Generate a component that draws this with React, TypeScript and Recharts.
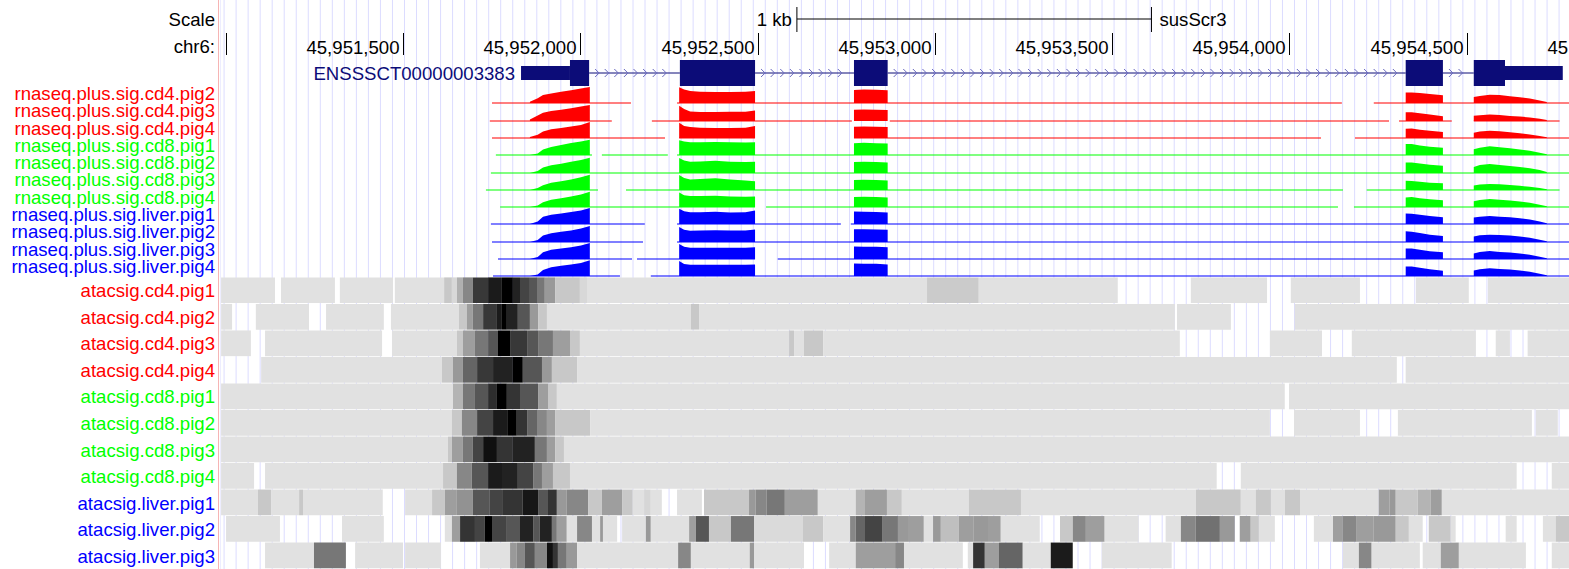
import React from 'react';
import {
  ComposedChart,
  AreaChart,
  Area,
  XAxis,
  YAxis,
  CartesianGrid,
  ReferenceArea,
  ReferenceLine,
} from 'recharts';

// genome window (chr6), offsets in the tables below are bp from ORIGIN
const ORIGIN = 45951000;
const VIEW_START = 45950984;
const VIEW_END = 45955127;

const RULER_TICKS = [45951000, 45951500, 45952000, 45952500, 45953000, 45953500, 45954000, 45954500, 45955000];
const SCALE_BAR = [1611, 2611];

const GENE_NAME = 'ENSSSCT00000003383';
const GENE_UTR = [[833, 971], [3608, 3771]];
const GENE_CDS = [[971, 1025], [1281, 1493], [1772, 1867], [3328, 3433], [3520, 3608]];

// rna-seq coverage (fraction of track height), sampled per exon
const RNA_TRACKS = [
  'rnaseq.plus.sig.cd4.pig2', 'rnaseq.plus.sig.cd4.pig3', 'rnaseq.plus.sig.cd4.pig4',
  'rnaseq.plus.sig.cd8.pig1', 'rnaseq.plus.sig.cd8.pig2', 'rnaseq.plus.sig.cd8.pig3', 'rnaseq.plus.sig.cd8.pig4',
  'rnaseq.plus.sig.liver.pig1', 'rnaseq.plus.sig.liver.pig2', 'rnaseq.plus.sig.liver.pig3', 'rnaseq.plus.sig.liver.pig4',
];
const EXON1_POS = [858, 880, 895, 918, 946, 974, 1002, 1027];
const EXON2_POS = [1279, 1293, 1310, 1338, 1381, 1423, 1466, 1493];
const EXON3_POS = [1772, 1800, 1835, 1867];
const EXON4_POS = [3328, 3345, 3368, 3396, 3433];
const EXON5_POS = [3520, 3537, 3565, 3593, 3622, 3650, 3678, 3706, 3726];

const RNA_EXON1 = [
  [0.08, 0.3, 0.5, 0.6, 0.7, 0.8, 0.9, 1.0],
  [0.1, 0.35, 0.52, 0.62, 0.7, 0.8, 0.9, 1.0],
  [0.06, 0.2, 0.4, 0.55, 0.62, 0.72, 0.82, 1.0],
  [0, 0.1, 0.35, 0.5, 0.62, 0.75, 0.85, 0.95],
  [0, 0.12, 0.35, 0.48, 0.58, 0.7, 0.82, 0.95],
  [0, 0.12, 0.3, 0.45, 0.55, 0.65, 0.8, 0.95],
  [0, 0.1, 0.3, 0.45, 0.55, 0.65, 0.78, 0.95],
  [0, 0.15, 0.45, 0.58, 0.66, 0.75, 0.85, 1.0],
  [0, 0.12, 0.4, 0.55, 0.64, 0.72, 0.85, 1.0],
  [0, 0.12, 0.42, 0.58, 0.66, 0.74, 0.85, 1.0],
  [0, 0.1, 0.38, 0.55, 0.64, 0.72, 0.82, 0.98],
];
const RNA_EXON2 = [
  [0.98, 0.85, 0.75, 0.7, 0.68, 0.68, 0.7, 0.75],
  [0.96, 0.75, 0.6, 0.56, 0.56, 0.58, 0.58, 0.65],
  [0.96, 0.75, 0.68, 0.64, 0.62, 0.63, 0.64, 0.75],
  [0.92, 0.85, 0.8, 0.8, 0.82, 0.8, 0.78, 0.8],
  [0.94, 0.78, 0.7, 0.72, 0.76, 0.7, 0.68, 0.7],
  [0.94, 0.75, 0.66, 0.68, 0.74, 0.66, 0.6, 0.55],
  [0.9, 0.74, 0.68, 0.68, 0.7, 0.66, 0.64, 0.66],
  [0.96, 0.8, 0.74, 0.74, 0.76, 0.72, 0.74, 0.85],
  [0.94, 0.76, 0.7, 0.72, 0.73, 0.72, 0.72, 0.78],
  [0.94, 0.76, 0.7, 0.7, 0.7, 0.7, 0.7, 0.74],
  [0.94, 0.75, 0.7, 0.7, 0.7, 0.7, 0.7, 0.72],
];
const RNA_EXON3 = [
  [0.82, 0.84, 0.83, 0.8],
  [0.7, 0.72, 0.7, 0.68],
  [0.7, 0.72, 0.7, 0.68],
  [0.74, 0.76, 0.74, 0.72],
  [0.68, 0.7, 0.68, 0.66],
  [0.62, 0.64, 0.63, 0.6],
  [0.62, 0.64, 0.62, 0.6],
  [0.78, 0.76, 0.75, 0.72],
  [0.8, 0.79, 0.78, 0.76],
  [0.78, 0.77, 0.76, 0.74],
  [0.78, 0.77, 0.76, 0.72],
];
const RNA_EXON4 = [
  [0.66, 0.66, 0.62, 0.56, 0.48],
  [0.54, 0.55, 0.48, 0.4, 0.3],
  [0.58, 0.6, 0.52, 0.45, 0.38],
  [0.68, 0.68, 0.6, 0.52, 0.46],
  [0.66, 0.66, 0.6, 0.52, 0.46],
  [0.58, 0.56, 0.52, 0.46, 0.42],
  [0.6, 0.62, 0.55, 0.48, 0.42],
  [0.65, 0.64, 0.58, 0.5, 0.42],
  [0.67, 0.64, 0.56, 0.45, 0.38],
  [0.66, 0.66, 0.58, 0.48, 0.42],
  [0.6, 0.6, 0.52, 0.42, 0.33],
];
const RNA_EXON5 = [
  [0.38, 0.44, 0.52, 0.5, 0.42, 0.36, 0.28, 0.16, 0.06],
  [0.33, 0.36, 0.4, 0.37, 0.32, 0.28, 0.22, 0.14, 0.06],
  [0.33, 0.4, 0.46, 0.42, 0.36, 0.3, 0.22, 0.12, 0.04],
  [0.36, 0.46, 0.54, 0.48, 0.42, 0.34, 0.26, 0.14, 0.04],
  [0.38, 0.5, 0.56, 0.5, 0.44, 0.38, 0.3, 0.18, 0.06],
  [0.28, 0.34, 0.38, 0.36, 0.32, 0.26, 0.2, 0.12, 0.04],
  [0.36, 0.44, 0.5, 0.46, 0.4, 0.34, 0.26, 0.14, 0.04],
  [0.4, 0.46, 0.5, 0.46, 0.42, 0.36, 0.28, 0.16, 0.05],
  [0.34, 0.42, 0.46, 0.44, 0.4, 0.34, 0.26, 0.14, 0.04],
  [0.34, 0.44, 0.5, 0.44, 0.4, 0.34, 0.26, 0.14, 0.04],
  [0.34, 0.42, 0.48, 0.44, 0.4, 0.34, 0.26, 0.14, 0.04],
];
// stretches with low (non-zero) coverage
const RNA_LOW = [
  [[751, 1143], [1273, 3148], [3238, 3800]],
  [[745, 1089], [1202, 1766], [1873, 3281], [3309, 3458], [3520, 3762]],
  [[751, 1239], [1279, 1493], [1772, 3089], [3185, 3800]],
  [[762, 1033], [1061, 1247], [1273, 3800]],
  [[748, 3800]],
  [[734, 1050], [1129, 3151], [3218, 3762]],
  [[774, 1493], [1524, 3137], [3182, 3800]],
  [[748, 1182], [1273, 1735], [1763, 3800]],
  [[751, 1177], [1273, 3800]],
  [[768, 1146], [1160, 1493], [1557, 3800]],
  [[754, 1112], [1199, 3800]],
];

// atac-seq dense tracks: [start, end, signal 0-100]
const ATAC_TRACKS = [
  'atacsig.cd4.pig1', 'atacsig.cd4.pig2', 'atacsig.cd4.pig3', 'atacsig.cd4.pig4',
  'atacsig.cd8.pig1', 'atacsig.cd8.pig2', 'atacsig.cd8.pig3', 'atacsig.cd8.pig4',
  'atacsig.liver.pig1', 'atacsig.liver.pig2', 'atacsig.liver.pig3',
];
const ATAC_CD4_PIG1 = [
  [-13, 139, 0], [156, 308, 0], [322, 472, 0], [477, 616, 0], [616, 638, 11], [638, 652, 4], [652, 669, 22],
  [669, 697, 40], [697, 740, 75], [740, 779, 88], [779, 810, 100], [810, 830, 85], [830, 858, 70], [858, 878, 62],
  [878, 900, 47], [900, 929, 32], [929, 999, 11], [999, 1019, 4], [1019, 1978, 0], [1978, 2124, 10], [2124, 2516, 0],
  [2722, 2937, 0], [3004, 3199, 0], [3357, 3506, 0], [3560, 3800, 0],
];
const ATAC_CD4_PIG2 = [
  [-13, 18, 0], [85, 235, 0], [283, 446, 0], [466, 658, 0], [658, 680, 11], [680, 697, 30], [697, 726, 47],
  [726, 765, 75], [765, 779, 88], [779, 793, 100], [793, 824, 85], [824, 858, 62], [858, 881, 32], [881, 906, 11],
  [906, 1312, 0], [1312, 1335, 11], [1335, 2677, 0], [2683, 2835, 0], [3015, 3800, 0],
];
const ATAC_CD4_PIG3 = [
  [-13, 71, 0], [111, 441, 0], [469, 652, 0], [652, 669, 11], [669, 703, 30], [703, 740, 47], [740, 768, 62],
  [768, 802, 100], [802, 850, 75], [850, 881, 62], [881, 923, 47], [923, 971, 30], [971, 999, 11], [999, 1589, 0],
  [1589, 1603, 11], [1603, 1631, 0], [1631, 1685, 11], [1685, 2691, 0], [2945, 3092, 0], [3176, 3526, 0],
  [3582, 3622, 0], [3672, 3800, 0],
];
const ATAC_CD4_PIG4 = [
  [100, 610, 0], [610, 641, 11], [641, 669, 32], [669, 709, 55], [709, 754, 75], [754, 810, 85], [810, 838, 100],
  [838, 892, 62], [892, 920, 32], [920, 991, 11], [991, 3303, 0], [3328, 3800, 0],
];
const ATAC_CD8_PIG1 = [
  [-13, 641, 0], [641, 669, 20], [669, 703, 47], [703, 740, 62], [740, 765, 80], [765, 793, 100], [793, 830, 77],
  [830, 881, 62], [881, 909, 30], [909, 934, 11], [934, 2987, 0], [2999, 3800, 0],
];
const ATAC_CD8_PIG2 = [
  [-13, 638, 0], [638, 666, 11], [666, 709, 40], [709, 754, 70], [754, 796, 88], [796, 821, 100], [821, 850, 77],
  [850, 878, 55], [878, 906, 40], [906, 929, 30], [929, 1028, 11], [1028, 2945, 0], [3013, 3199, 0],
  [3306, 3684, 0], [3695, 3757, 0],
];
const ATAC_CD8_PIG3 = [
  [-13, 627, 0], [627, 638, 11], [638, 669, 30], [669, 697, 47], [697, 726, 70], [726, 765, 93], [765, 810, 77],
  [810, 872, 85], [872, 906, 47], [906, 929, 30], [929, 954, 11], [954, 3800, 0],
];
const ATAC_CD8_PIG4 = [
  [-13, 80, 0], [111, 613, 0], [613, 652, 11], [652, 694, 40], [694, 740, 62], [740, 782, 88], [782, 824, 85],
  [824, 867, 70], [867, 892, 47], [892, 923, 30], [923, 971, 11], [971, 2795, 0], [2863, 3641, 0], [3740, 3800, 0],
];
const ATAC_LIVER_PIG1 = [
  [-13, 91, 0], [91, 128, 11], [128, 207, 0], [207, 218, 11], [218, 443, 0], [506, 582, 0], [582, 618, 11],
  [618, 652, 30], [652, 697, 35], [697, 745, 62], [745, 782, 70], [782, 838, 77], [838, 881, 90], [881, 909, 62],
  [909, 934, 77], [934, 962, 32], [962, 1022, 40], [1022, 1061, 11], [1061, 1118, 30], [1118, 1148, 11],
  [1148, 1180, 0], [1180, 1199, 5], [1199, 1230, 0], [1273, 1343, 0], [1349, 1476, 11], [1476, 1495, 32],
  [1495, 1526, 40], [1526, 1577, 47], [1577, 1670, 30], [1670, 1777, 0], [1777, 1803, 20], [1803, 1865, 30],
  [1865, 1907, 11], [1907, 2096, 0], [2096, 2243, 11], [2243, 2736, 0], [2736, 2863, 11], [2863, 2905, 0],
  [2905, 2948, 11], [2948, 2987, 0], [2987, 3030, 11], [3030, 3252, 0], [3252, 3283, 30], [3283, 3300, 32],
  [3300, 3362, 11], [3362, 3399, 20], [3399, 3430, 30], [3430, 3800, 0],
];
const ATAC_LIVER_PIG2 = [
  [1, 153, 0], [328, 446, 0], [618, 638, 0], [638, 661, 30], [661, 703, 77], [703, 731, 70], [731, 751, 100],
  [751, 793, 70], [793, 830, 62], [830, 867, 85], [867, 886, 62], [886, 920, 85], [920, 934, 47], [934, 962, 30],
  [962, 991, 0], [991, 1033, 40], [1033, 1056, 0], [1056, 1064, 32], [1064, 1104, 0], [1118, 1185, 0],
  [1185, 1199, 32], [1199, 1307, 0], [1307, 1326, 30], [1326, 1363, 62], [1363, 1425, 11], [1425, 1490, 47],
  [1490, 1628, 3], [1628, 1685, 11], [1685, 1761, 0], [1761, 1777, 40], [1777, 1803, 55], [1803, 1853, 70],
  [1853, 1896, 47], [1896, 1927, 32], [1927, 1969, 30], [1969, 1995, 0], [1995, 2017, 32], [2017, 2068, 15],
  [2068, 2110, 30], [2110, 2150, 32], [2150, 2186, 30], [2186, 2296, 0], [2353, 2389, 11], [2389, 2426, 40],
  [2426, 2479, 30], [2479, 2575, 0], [2651, 2694, 0], [2694, 2736, 40], [2736, 2804, 50], [2804, 2846, 32],
  [2860, 2891, 30], [2891, 2914, 11], [2914, 2959, 0], [3069, 3123, 0], [3123, 3151, 30], [3151, 3190, 40],
  [3190, 3238, 30], [3238, 3300, 32], [3300, 3337, 11], [3337, 3376, 0], [3393, 3455, 11], [3455, 3469, 0],
  [3610, 3641, 0], [3715, 3751, 0], [3751, 3800, 11],
];
const ATAC_LIVER_PIG3 = [
  [111, 249, 0], [249, 339, 47], [365, 500, 0], [506, 607, 0], [717, 802, 0], [802, 821, 32], [821, 844, 40],
  [844, 872, 62], [872, 906, 40], [906, 923, 93], [923, 937, 77], [937, 962, 47], [962, 991, 32], [991, 1276, 0],
  [1276, 1312, 40], [1312, 1478, 0], [1478, 1490, 32], [1490, 1631, 0], [1702, 1777, 0], [1777, 1888, 30],
  [1888, 1913, 40], [1913, 2079, 0], [2093, 2108, 0], [2108, 2141, 77], [2141, 2181, 30], [2181, 2248, 55],
  [2248, 2327, 0], [2327, 2389, 88], [2471, 2668, 0], [3151, 3196, 0], [3196, 3232, 40], [3232, 3368, 0],
  [3376, 3427, 0], [3427, 3478, 30], [3478, 3667, 0], [3740, 3800, 0],
];
const ATAC_ROWS = [
  ATAC_CD4_PIG1, ATAC_CD4_PIG2, ATAC_CD4_PIG3, ATAC_CD4_PIG4,
  ATAC_CD8_PIG1, ATAC_CD8_PIG2, ATAC_CD8_PIG3, ATAC_CD8_PIG4,
  ATAC_LIVER_PIG1, ATAC_LIVER_PIG2, ATAC_LIVER_PIG3,
];

// layout
const FONT = '"Liberation Sans", Arial, Helvetica, sans-serif';
const FS = 18.6;
const NAVY = '#0c0c78';
const PLOT_LEFT = 220;
const PLOT_W = 1469;
const RNA_BASE = 103.3;
const RNA_STEP = 17.3;
const ATAC_TOP = 277.3;
const ATAC_H = 291.7;
const ATAC_ROW = ATAC_H / 11;
const M0 = { top: 0, right: 0, bottom: 0, left: 0 };
const VIEW_DATA = [{ x: VIEW_START }, { x: VIEW_END }];

const groupColor = (name: string) =>
  name.includes('cd4') ? '#ff0000' : name.includes('cd8') ? '#00ff00' : '#0000ff';
const shade = (s: number) => {
  const g = Math.round(225 - 2.25 * s);
  return `rgb(${g},${g},${g})`;
};

// light-blue guidelines every ~12px
const GUIDES = Array.from({ length: 122 }, (_, k) => VIEW_START + 11.5 + k * 33.92);

const GENE_BLOCKS = [...GENE_UTR, ...GENE_CDS].sort((a, b) => a[0] - b[0]);
const GENE_INTRONS = GENE_BLOCKS.slice(1)
  .map((b, k) => [GENE_BLOCKS[k][1], b[0]])
  .filter(([a, b]) => b > a);

function trackPoints(i: number) {
  const blocks: [number[], number[]][] = [
    [EXON1_POS, RNA_EXON1[i]],
    [EXON2_POS, RNA_EXON2[i]],
    [EXON3_POS, RNA_EXON3[i]],
    [EXON4_POS, RNA_EXON4[i]],
    [EXON5_POS, RNA_EXON5[i]],
  ];
  const pts: { x: number; v: number | null }[] = [];
  blocks.forEach(([pos, vals], k) => {
    if (k > 0) pts.push({ x: ORIGIN + pos[0] - 1, v: null });
    pos.forEach((p, j) => pts.push({ x: ORIGIN + p, v: vals[j] }));
  });
  return pts;
}

function RulerTick(props: any) {
  const { x, payload } = props;
  const px = Math.round(x) + 0.5;
  // like the browser, skip a label that would not fit left of its tick
  const showLabel = px > 100;
  return (
    <g>
      <line x1={px} x2={px} y1={33} y2={55} stroke="#000" />
      {showLabel && (
        <text x={px - 4} y={53.5} textAnchor="end" fontSize={FS} fontFamily={FONT} fill="#000">
          {Number(payload.value).toLocaleString('en-US')}
        </text>
      )}
    </g>
  );
}

function IntronShape(props: any) {
  const { x1, x2, y1 } = props;
  const marks: number[] = [];
  for (let cx = x1 + 8; cx < x2 - 8; cx += 9.6) marks.push(cx);
  return (
    <g>
      <line x1={x1} x2={x2} y1={y1} y2={y1} stroke={NAVY} />
      {marks.map((cx) => (
        <polyline key={cx} points={`${cx - 2},${y1 - 4} ${cx + 2},${y1} ${cx - 2},${y1 + 4}`} fill="none" stroke="#6a6ac0" />
      ))}
    </g>
  );
}

const xAxis = (extra: any = {}) => (
  <XAxis type="number" dataKey="x" domain={[VIEW_START, VIEW_END]} allowDataOverflow hide {...extra} />
);

function RnaTrack({ i }: { i: number }) {
  const color = groupColor(RNA_TRACKS[i]);
  return (
    <AreaChart width={PLOT_W} height={17} data={trackPoints(i)} margin={{ top: 0, right: 0, bottom: 1, left: 0 }}>
      {xAxis()}
      <YAxis type="number" domain={[0, 1]} allowDataOverflow hide />
      {RNA_LOW[i].map(([a, b], k) => (
        <ReferenceLine key={k} segment={[{ x: ORIGIN + a, y: 0 }, { x: ORIGIN + b, y: 0 }]} stroke={color} strokeWidth={1.2} />
      ))}
      <Area dataKey="v" type="linear" stroke="none" fill={color} fillOpacity={1} isAnimationActive={false} dot={false} activeDot={false} />
    </AreaChart>
  );
}

const labelStyle = (top: number, color: string): React.CSSProperties => ({
  position: 'absolute',
  left: 0,
  top,
  width: 215,
  textAlign: 'right',
  fontSize: FS,
  lineHeight: '20px',
  height: 20,
  color,
  whiteSpace: 'nowrap',
});

export default function App() {
  return (
    <div style={{ position: 'absolute', left: 0, top: 0, width: 1569, height: 569, overflow: 'hidden', background: '#fff', fontFamily: FONT }}>
      <div style={{ position: 'absolute', left: 218, top: 0, width: 1, height: 569, background: '#f6b4b4' }} />

      <div style={labelStyle(9.6, '#000')}>Scale</div>
      <div style={labelStyle(37.1, '#000')}>chr6:</div>
      {RNA_TRACKS.map((name, i) => (
        <div key={name} style={labelStyle(RNA_BASE + RNA_STEP * i - 19.4, groupColor(name))}>{name}</div>
      ))}
      {ATAC_TRACKS.map((name, r) => (
        <div key={name} style={labelStyle(ATAC_TOP + ATAC_ROW * r + 4.1, groupColor(name))}>{name}</div>
      ))}

      <div style={{ position: 'absolute', left: PLOT_LEFT, top: 0, width: 1569 - PLOT_LEFT, height: 569, overflow: 'hidden' }}>
        {/* guidelines */}
        <div style={{ position: 'absolute', left: 0, top: 0 }}>
          <ComposedChart width={PLOT_W} height={569} data={VIEW_DATA} margin={M0}>
            {xAxis({ ticks: GUIDES, interval: 0, minTickGap: 0 })}
            <YAxis hide />
            <CartesianGrid horizontal={false} stroke="#dcdcff" />
          </ComposedChart>
        </div>

        {/* scale bar + ruler (axis band sits below the 60px plot) */}
        <div style={{ position: 'absolute', left: 0, top: 0 }}>
          <ComposedChart width={PLOT_W} height={90} data={VIEW_DATA} margin={M0}>
            <XAxis type="number" dataKey="x" domain={[VIEW_START, VIEW_END]} allowDataOverflow ticks={RULER_TICKS}
              interval={0} minTickGap={0} tick={RulerTick} axisLine={false} tickLine={false} height={30} />
            <YAxis type="number" domain={[0, 60]} reversed allowDataOverflow hide />
            <ReferenceLine segment={[{ x: ORIGIN + SCALE_BAR[0], y: 19 }, { x: ORIGIN + SCALE_BAR[1], y: 19 }]} stroke="#000" />
            <ReferenceLine segment={[{ x: ORIGIN + SCALE_BAR[0], y: 7 }, { x: ORIGIN + SCALE_BAR[0], y: 32 }]} stroke="#000"
              label={{ value: '1 kb', position: 'left', offset: 5, fill: '#000', fontSize: FS, fontFamily: FONT }} />
            <ReferenceLine segment={[{ x: ORIGIN + SCALE_BAR[1], y: 7 }, { x: ORIGIN + SCALE_BAR[1], y: 32 }]} stroke="#000"
              label={{ value: 'susScr3', position: 'right', offset: 8, fill: '#000', fontSize: FS, fontFamily: FONT }} />
          </ComposedChart>
        </div>

        {/* gene model */}
        <div style={{ position: 'absolute', left: 0, top: 60 }}>
          <ComposedChart width={PLOT_W} height={26} data={VIEW_DATA} margin={M0}>
            {xAxis()}
            <YAxis type="number" domain={[-1, 1]} allowDataOverflow hide />
            {GENE_INTRONS.map(([a, b], k) => (
              <ReferenceLine key={`i${k}`} segment={[{ x: ORIGIN + a, y: 0 }, { x: ORIGIN + b, y: 0 }]} shape={IntronShape} />
            ))}
            {GENE_UTR.map(([a, b], k) => (
              <ReferenceArea key={`u${k}`} x1={ORIGIN + a} x2={ORIGIN + b} y1={-0.53} y2={0.53} fill={NAVY} fillOpacity={1} stroke="none"
                label={k === 0 ? { value: GENE_NAME, position: 'left', offset: 6, fill: NAVY, fontSize: FS, fontFamily: FONT } : undefined} />
            ))}
            {GENE_CDS.map(([a, b], k) => (
              <ReferenceArea key={`c${k}`} x1={ORIGIN + a} x2={ORIGIN + b} y1={-1} y2={1} fill={NAVY} fillOpacity={1} stroke="none" />
            ))}
          </ComposedChart>
        </div>

        {/* rna-seq signal tracks */}
        {RNA_TRACKS.map((name, i) => (
          <div key={name} style={{ position: 'absolute', left: 0, top: RNA_BASE + RNA_STEP * i - 16 }}>
            <RnaTrack i={i} />
          </div>
        ))}

        {/* atac dense tracks */}
        <div style={{ position: 'absolute', left: 0, top: ATAC_TOP }}>
          <ComposedChart width={PLOT_W} height={ATAC_H} data={VIEW_DATA} margin={M0}>
            {xAxis()}
            <YAxis type="number" domain={[0, 11]} reversed allowDataOverflow hide />
            {ATAC_ROWS.map((row, r) =>
              row.map(([a, b, s], k) => (
                <ReferenceArea key={`${r}-${k}`} x1={ORIGIN + a} x2={ORIGIN + b} y1={r + 0.015} y2={r + 0.985}
                  fill={shade(s)} fillOpacity={1} stroke="none" />
              ))
            )}
          </ComposedChart>
        </div>
      </div>
    </div>
  );
}
